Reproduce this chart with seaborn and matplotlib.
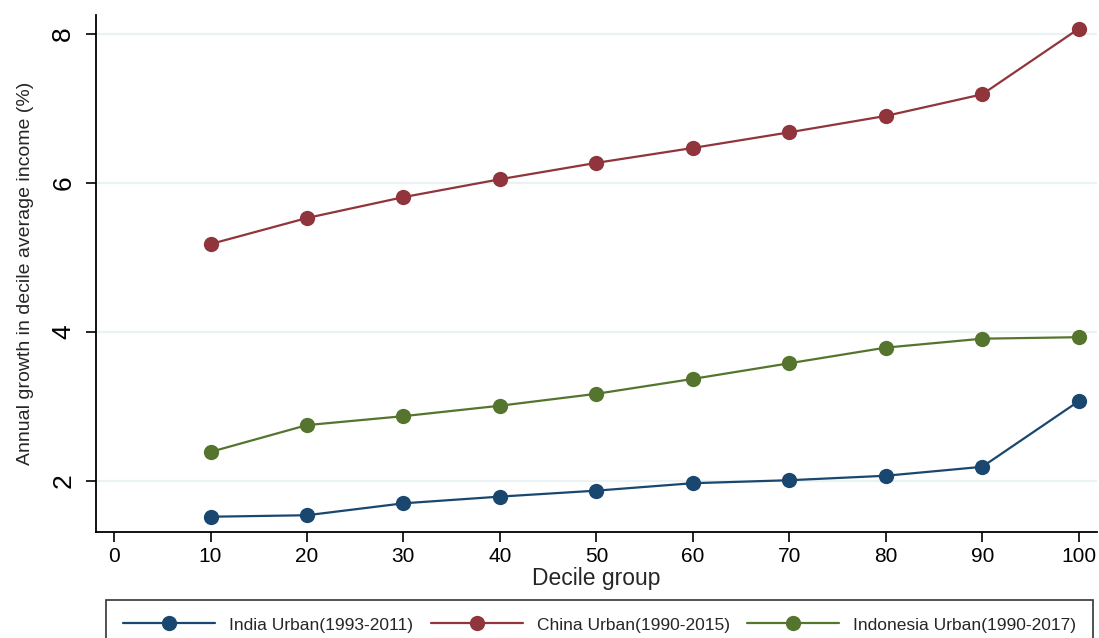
import numpy as np
import pandas as pd
import matplotlib
matplotlib.use("Agg")
import matplotlib.pyplot as plt
import seaborn as sns

# values
deciles = [10, 20, 30, 40, 50, 60, 70, 80, 90, 100]
india = [1.52, 1.54, 1.70, 1.79, 1.87, 1.97, 2.01, 2.07, 2.19, 3.07]
china = [5.18, 5.53, 5.81, 6.05, 6.27, 6.47, 6.68, 6.90, 7.19, 8.07]
indonesia = [2.39, 2.75, 2.87, 3.01, 3.17, 3.37, 3.58, 3.79, 3.91, 3.93]
labels = ["India Urban(1993-2011)", "China Urban(1990-2015)", "Indonesia Urban(1990-2017)"]
colors = ["#1a476f", "#90353b", "#55752f"]

df = pd.DataFrame({
    "decile": deciles * 3,
    "growth": india + china + indonesia,
    "series": [labels[0]] * 10 + [labels[1]] * 10 + [labels[2]] * 10,
})

sns.set_style("white")
plt.rcParams['font.family'] = ['Liberation Sans', 'DejaVu Sans']

fig = plt.figure(figsize=(10.99, 6.38), dpi=100)
ax = fig.add_axes([96/1099, 106/638, 1001/1099, 517/638])

sns.lineplot(data=df, x="decile", y="growth", hue="series", hue_order=labels,
             palette=colors, marker="o", markersize=11, markeredgewidth=0,
             linewidth=1.6, ax=ax, legend=False)

ax.set_xlim(-1.87, 101.9)
ax.set_ylim(1.315, 8.255)
ax.set_xticks(range(0, 101, 10))
ax.set_yticks([2, 4, 6, 8])
ax.set_yticklabels(["2", "4", "6", "8"], rotation=90, va="center")
ax.tick_params(axis="both", direction="out", length=7, width=1.2,
               colors="black", left=True, bottom=True)
ax.tick_params(axis="x", labelsize=15)
ax.tick_params(axis="y", labelsize=19, pad=8)
for y in [2, 4, 6, 8]:
    ax.axhline(y, color="#eaf2f3", linewidth=1.6, zorder=0)

for s in ["top", "right"]:
    ax.spines[s].set_visible(False)
for s in ["left", "bottom"]:
    ax.spines[s].set_color("black")
    ax.spines[s].set_linewidth(1.3)

ax.set_xlabel("Decile group", fontsize=16.5, labelpad=1)
ax.set_ylabel("Annual growth in decile average income (%)", fontsize=14, labelpad=12)

handles = [plt.Line2D([], [], color=c, marker="o", markersize=11, markeredgewidth=0,
                      linewidth=1.6) for c in colors]
leg = fig.legend(handles, labels, loc="upper left", ncol=3,
                 bbox_to_anchor=(106/1099, 38/638),
                 fontsize=12.5, frameon=True, fancybox=False, edgecolor="black",
                 handlelength=5.3, handletextpad=0.8, borderpad=1.0,
                 borderaxespad=0, columnspacing=1.0)
leg.get_frame().set_linewidth(1.2)

fig.savefig("out.png", dpi=100)
